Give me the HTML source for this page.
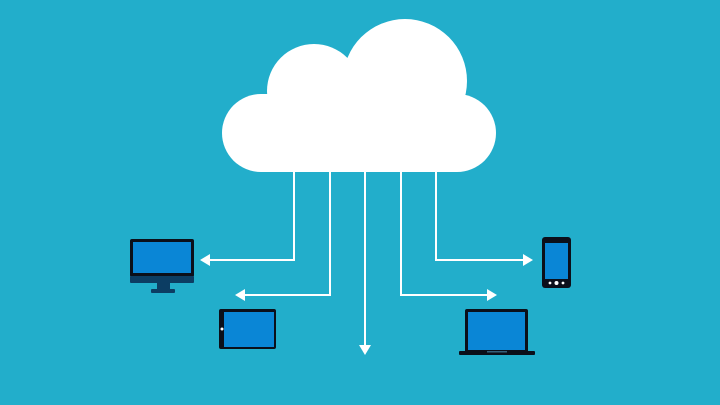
<!DOCTYPE html>
<html><head><style>html,body{margin:0;padding:0;background:#22aecb;}</style></head>
<body>
<svg width="720" height="400" viewBox="0 0 720 400" xmlns="http://www.w3.org/2000/svg">
<rect width="720" height="400" fill="#22aecb"/>
<g fill="#fff">
<rect x="222" y="94" width="274" height="78" rx="39"/>
<circle cx="314" cy="91" r="47"/>
<circle cx="405" cy="81" r="62"/>
</g>
<g stroke="#fff" stroke-width="2" fill="none">
<polyline points="294,172 294,260 208,260"/>
<polyline points="330,172 330,295 243,295"/>
<polyline points="365,172 365,346"/>
<polyline points="401,172 401,295 489,295"/>
<polyline points="436,172 436,260 525,260"/>
</g>
<g fill="#fff">
<polygon points="200,260 210,254 210,266"/>
<polygon points="235,295 245,289 245,301"/>
<polygon points="365,355 359,345 371,345"/>
<polygon points="497,295 487,289 487,301"/>
<polygon points="533,260 523,254 523,266"/>
</g>
<!-- monitor -->
<rect x="130" y="239" width="64" height="38" rx="2" fill="#0b0f1a"/>
<rect x="133" y="242" width="58" height="31" fill="#0a86d6"/>
<rect x="130" y="276" width="64" height="7" rx="1" fill="#0c3d63"/>
<rect x="157" y="283" width="13" height="7" fill="#0c3d63"/>
<rect x="151" y="289" width="24" height="4" rx="1" fill="#0c3d63"/>
<!-- tablet -->
<rect x="219" y="309" width="57" height="40" rx="2" fill="#0b0f1a"/>
<rect x="224" y="312" width="50" height="35" fill="#0a86d6"/>
<circle cx="222" cy="329" r="1.5" fill="#fff"/>
<!-- phone -->
<rect x="542" y="237" width="29" height="51" rx="3" fill="#0b0f1a"/>
<rect x="545" y="243" width="23" height="36" fill="#0a86d6"/>
<circle cx="550" cy="283" r="1.4" fill="#fff"/>
<circle cx="556.5" cy="283" r="2" fill="#fff"/>
<circle cx="563" cy="283" r="1.4" fill="#fff"/>
<!-- laptop -->
<rect x="465" y="309" width="63" height="44" rx="2" fill="#0b0f1a"/>
<rect x="468" y="312" width="57" height="38" fill="#0a86d6"/>
<rect x="459" y="351" width="76" height="4" rx="1" fill="#0b0f1a"/>
<rect x="487" y="351" width="20" height="1.5" fill="#35607a"/>
</svg>
</body></html>
